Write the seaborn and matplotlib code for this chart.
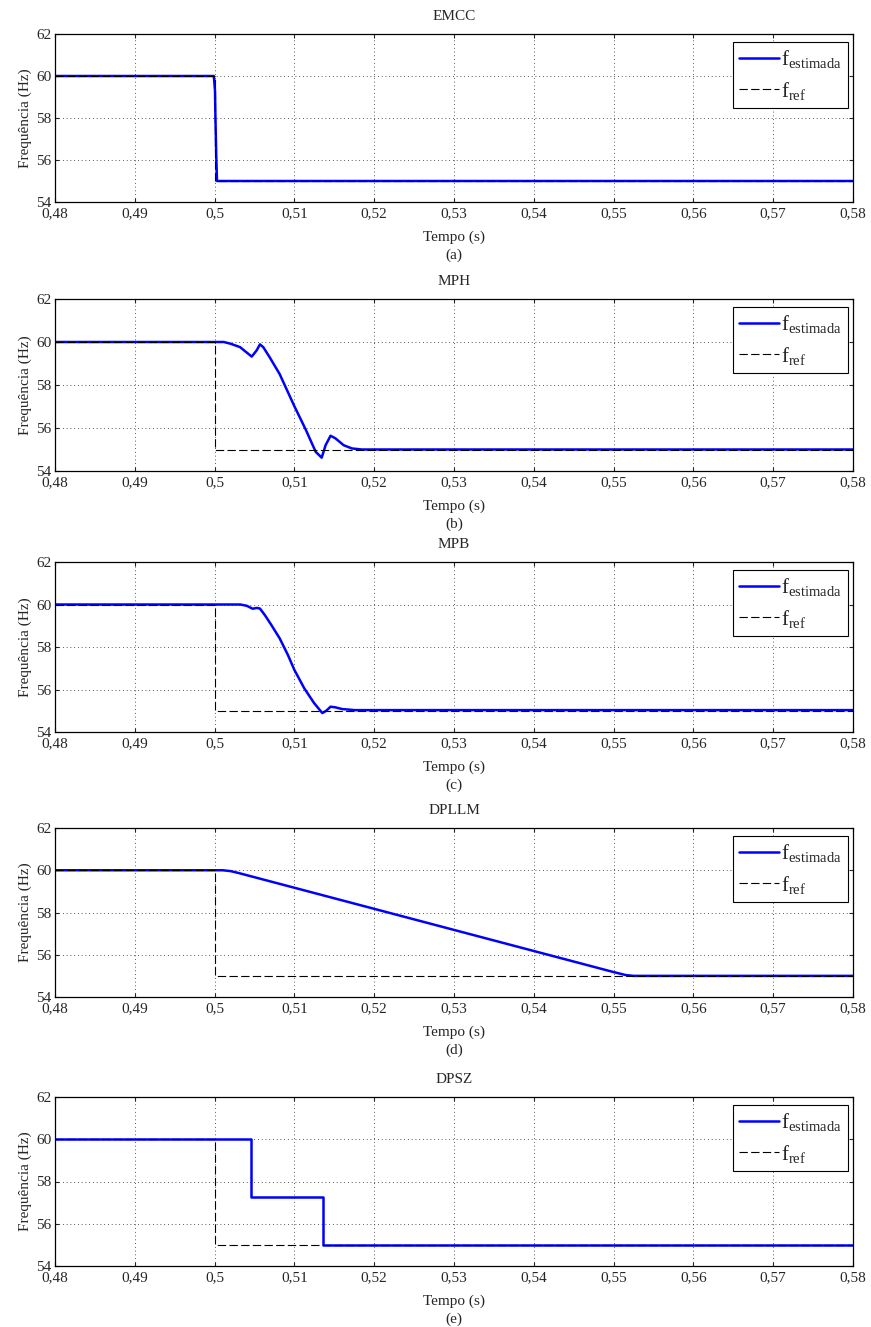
import numpy as np
import pandas as pd
import matplotlib
matplotlib.use("Agg")
import matplotlib.pyplot as plt
import seaborn as sns
from matplotlib.ticker import FuncFormatter

# ---------------- data ----------------
titles = ["EMCC", "MPH", "MPB", "DPLLM", "DPSZ"]
sublabels = ["(a)", "(b)", "(c)", "(d)", "(e)"]

ref_t = [0.48, 0.50, 0.50, 0.58]
ref_f = [60.0, 60.0, 55.0, 55.0]

emcc_t = [0.48, 0.4999, 0.50005, 0.5001, 0.5002, 0.5003, 0.58]
emcc_f = [60.0, 60.0, 59.3, 58.1, 56.3, 55.0, 55.0]

mph_t = [0.48, 0.50115, 0.5020, 0.5032, 0.50465, 0.50527, 0.50568, 0.5061,
         0.5069, 0.50815, 0.5100, 0.51144, 0.51267, 0.51342, 0.51391,
         0.51453, 0.51514, 0.51617, 0.5172, 0.51844, 0.58]
mph_f = [60.0, 60.0, 59.92, 59.76, 59.32, 59.61, 59.89, 59.76,
         59.29, 58.51, 57.01, 55.91, 54.89, 54.62, 55.20,
         55.64, 55.52, 55.20, 55.05, 55.0, 55.0]

mpb_t = [0.48, 0.50321, 0.50403, 0.50477, 0.50527, 0.50568, 0.5063, 0.50712,
         0.50815, 0.50918, 0.5100, 0.51123, 0.51247, 0.5135, 0.51399,
         0.51453, 0.51514, 0.51597, 0.5176, 0.58]
mpb_f = [60.0, 60.0, 59.94, 59.80, 59.84, 59.81, 59.5, 59.03,
         58.41, 57.63, 56.92, 56.06, 55.36, 54.89, 55.0,
         55.19, 55.16, 55.08, 55.03, 55.03]

dpllm_t = [0.48, 0.5010, 0.5020, 0.5030, 0.5500, 0.5515, 0.5525, 0.58]
dpllm_f = [60.0, 60.0, 59.96, 59.87, 55.18, 55.04, 55.0, 55.0]

dpsz_t = [0.48, 0.50457, 0.50457, 0.51358, 0.51358, 0.58]
dpsz_f = [60.0, 60.0, 57.28, 57.28, 55.0, 55.0]

est_series = [(emcc_t, emcc_f), (mph_t, mph_f), (mpb_t, mpb_f),
              (dpllm_t, dpllm_f), (dpsz_t, dpsz_f)]

x_ticks = [0.48, 0.49, 0.50, 0.51, 0.52, 0.53, 0.54, 0.55, 0.56, 0.57, 0.58]
y_ticks = [54, 56, 58, 60, 62]

# ---------------- style ----------------
sns.set_style("ticks")
plt.rcParams["font.family"] = ["Liberation Serif", "DejaVu Serif"]
plt.rcParams["mathtext.fontset"] = "custom"
plt.rcParams["mathtext.rm"] = "Liberation Serif"
plt.rcParams["mathtext.it"] = "Liberation Serif"
plt.rcParams["font.size"] = 11

W, H = 871, 1327
fig = plt.figure(figsize=(W / 100, H / 100), dpi=100)

left_px, right_px = 55, 853
panel_tops = [34, 299, 562, 828, 1097]
panel_bots = [202, 471, 732, 997, 1266]


def fmt(v, pos):
    s = f"{v:.2f}".rstrip("0")
    return s.replace(".", ",")


FS = 11
for i in range(5):
    top, bot = panel_tops[i], panel_bots[i]
    ax = fig.add_axes([left_px / W, 1 - bot / H, (right_px - left_px) / W, (bot - top) / H])
    t, f = est_series[i]
    df_est = pd.DataFrame({"t": t, "f": f})
    df_ref = pd.DataFrame({"t": ref_t, "f": ref_f})
    sns.lineplot(data=df_est, x="t", y="f", ax=ax, estimator=None, sort=False,
                 color="#0000ff", linewidth=1.8, label=r"$\mathrm{f}_{\mathrm{estimada}}$")
    sns.lineplot(data=df_ref, x="t", y="f", ax=ax, estimator=None, sort=False,
                 color="black", linewidth=0.8, dashes=False,
                 label=r"$\mathrm{f}_{\mathrm{ref}}$")
    ax.lines[-1].set_dashes((7.5, 3.0))

    ax.set_xlim(0.48, 0.58)
    ax.set_ylim(54, 62)
    ax.set_xticks(x_ticks)
    ax.set_yticks(y_ticks)
    ax.xaxis.set_major_formatter(FuncFormatter(fmt))
    ax.grid(True, color="#222222", linestyle=(0, (1, 3.5)), linewidth=0.6)
    ax.tick_params(direction="in", top=True, right=True, length=3, width=0.8,
                   labelsize=FS, pad=2.5)
    ax.tick_params(axis="x", pad=3.5)
    for sp in ax.spines.values():
        sp.set_linewidth(0.9)
        sp.set_color("black")
    ax.set_title(titles[i], fontsize=FS, pad=10)
    ax.set_xlabel("Tempo (s)", fontsize=FS, labelpad=7.5)
    ax.set_ylabel("Frequência (Hz)", fontsize=FS, labelpad=3)
    ax.annotate(sublabels[i], xy=(0.5, 0), xycoords="axes fraction",
                xytext=(0, -38.5), textcoords="offset points",
                ha="center", va="center", fontsize=FS)

    leg = ax.legend(loc="upper right", bbox_to_anchor=(1 - 5 / 798, 1 - 8 / (bot - top)),
                    borderaxespad=0, fontsize=15, frameon=True, fancybox=False,
                    edgecolor="black", framealpha=1, handlelength=1.9,
                    handletextpad=0.1, borderpad=0.3, labelspacing=0.45)
    leg.get_frame().set_linewidth(0.8)

fig.savefig("out.png", dpi=100)
